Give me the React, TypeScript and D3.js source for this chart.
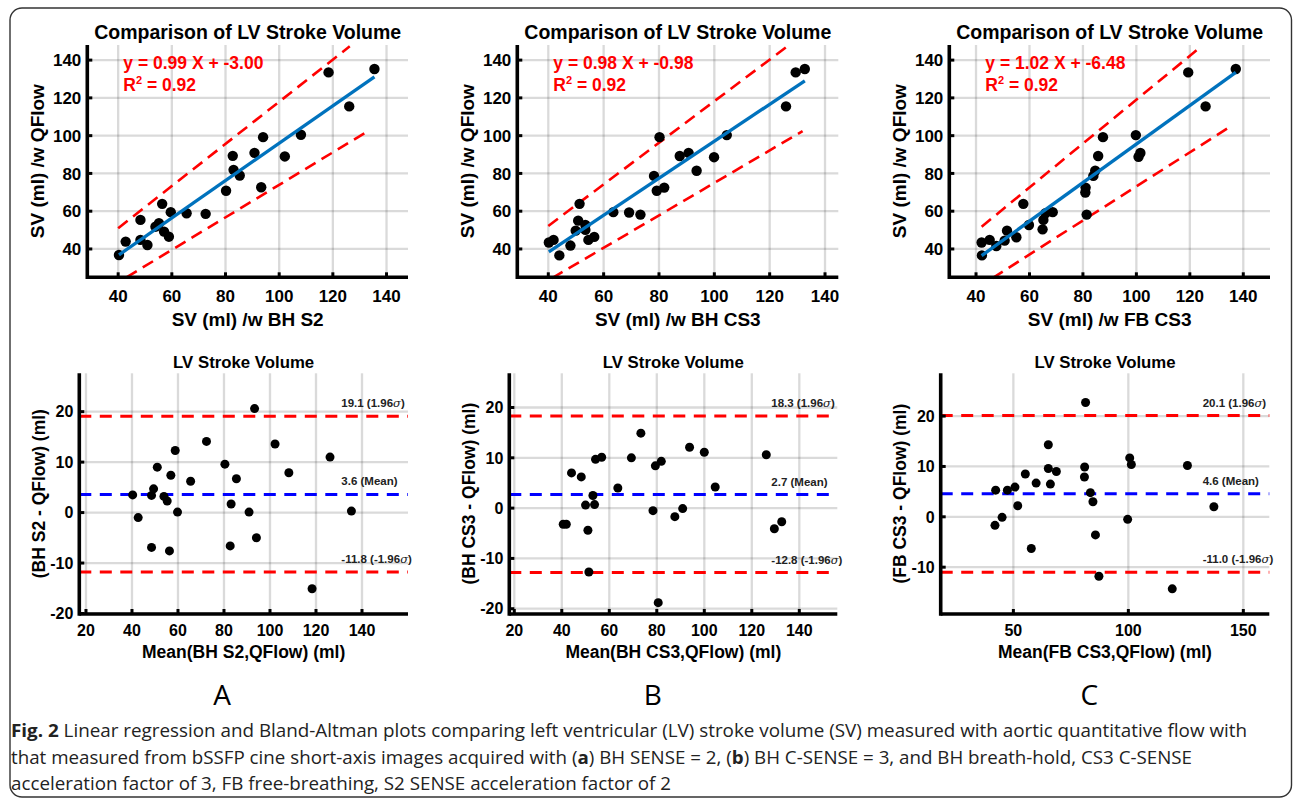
import * as d3 from 'd3';

// ---- data ----
// top row: SV from cine (x) vs SV from QFlow (y)
const bhS2Sv = [40.3, 42.8, 48.3, 50.9, 48.3, 53.9, 55.2, 56.4, 57.1, 58.9, 59.6, 65.5, 72.6, 80.2, 82.7, 83.0, 85.3, 90.8, 93.3, 94.0, 102.1, 108.1, 118.4, 126.1, 135.5];
const bhS2Qflow = [36.8, 43.9, 44.8, 42.1, 55.4, 51.8, 53.6, 63.9, 49.2, 46.5, 59.5, 58.9, 58.6, 70.8, 89.3, 81.9, 78.9, 90.9, 72.7, 99.2, 89.0, 100.5, 133.5, 115.5, 135.3];

const bhCs3Sv = [40.2, 41.9, 44.0, 48.0, 49.9, 50.8, 51.3, 53.4, 53.4, 54.5, 56.6, 63.5, 69.2, 73.3, 78.2, 79.2, 80.2, 81.9, 87.5, 90.7, 93.6, 99.9, 104.5, 125.9, 129.4, 132.7];
const bhCs3Qflow = [43.4, 44.8, 36.6, 41.8, 49.7, 55.0, 63.9, 52.7, 50.1, 44.8, 46.4, 59.5, 59.3, 58.2, 78.7, 70.8, 99.2, 72.5, 89.2, 90.9, 81.4, 88.6, 100.3, 115.5, 133.5, 135.3];

const fbCs3Sv = [42.1, 42.2, 45.1, 47.6, 50.7, 51.6, 55.1, 57.7, 59.8, 64.9, 65.2, 66.0, 68.7, 80.9, 81.0, 81.4, 83.9, 84.6, 85.7, 87.5, 99.8, 100.8, 101.5, 119.4, 125.9, 137.2];
const fbCs3Qflow = [43.4, 36.6, 44.8, 41.6, 44.4, 49.7, 46.2, 63.9, 52.7, 50.4, 55.4, 58.9, 59.5, 69.9, 72.5, 58.2, 78.7, 81.4, 89.2, 99.2, 100.3, 88.8, 90.8, 133.5, 115.5, 135.3];

// fits: [slope, intercept, r2]
const fitS2 = [0.99, -3.0, 0.92];
const fitCs3 = [0.98, -0.98, 0.92];
const fitFb = [1.02, -6.48, 0.92];

// dashed bound lines: [x0, y0, x1, y1]
const upperS2 = [40.0, 51.0, 126.3, 147.3];
const lowerS2 = [43.1, 25.0, 131.9, 101.4];
const upperCs3 = [40.0, 52.2, 126.4, 147.3];
const lowerCs3 = [41.4, 24.6, 131.9, 102.4];
const upperFb = [42.1, 51.8, 122.7, 145.4];
const lowerFb = [46.2, 24.6, 134.0, 103.8];

// bottom row: Bland-Altman
const baS2Mean = [40.3, 42.7, 48.5, 48.5, 49.4, 51.0, 53.9, 55.3, 56.3, 56.9, 58.8, 59.8, 65.5, 72.4, 80.4, 82.7, 83.1, 85.4, 90.9, 93.3, 94.1, 102.2, 108.2, 118.3, 126.1, 135.4];
const baS2Diff = [3.5, -1.0, -6.9, 3.4, 4.7, 9.0, 3.2, 2.3, -7.6, 7.4, 12.3, 0.1, 6.2, 14.1, 9.6, -6.6, 1.7, 6.7, 0.1, 20.6, -5.0, 13.6, 7.9, -15.1, 11.0, 0.3];

const baCs3Mean = [40.6, 41.9, 44.1, 48.2, 50.0, 51.0, 51.4, 53.1, 53.8, 54.2, 56.8, 63.6, 69.3, 73.3, 78.4, 79.4, 80.6, 81.9, 87.6, 90.9, 93.8, 100.0, 104.6, 126.1, 129.5, 132.6];
const baCs3Diff = [-3.2, -3.2, 7.0, 6.2, 0.6, -4.4, -12.7, 2.5, 0.7, 9.7, 10.1, 4.0, 10.0, 14.9, -0.5, 8.4, -18.8, 9.3, -1.7, -0.1, 12.1, 11.1, 4.2, 10.6, -4.1, -2.7];

const baFbMean = [42.0, 42.3, 45.1, 47.4, 50.7, 51.9, 55.2, 57.8, 59.9, 65.2, 65.2, 66.1, 68.7, 80.9, 81.0, 81.4, 83.5, 84.6, 85.7, 87.2, 99.7, 100.6, 101.3, 119.1, 125.7, 137.2];
const baFbDiff = [-1.7, 5.3, -0.1, 5.3, 5.9, 2.2, 8.5, -6.3, 6.7, 14.3, 9.6, 6.5, 9.0, 7.9, 9.9, 22.7, 4.8, 3.0, -3.6, -11.8, -0.5, 11.7, 10.4, -14.3, 10.2, 2.0];

// limits of agreement: [upper, mean, lower]
const loaS2 = [19.1, 3.6, -11.8];
const loaCs3 = [18.3, 2.7, -12.8];
const loaFb = [20.1, 4.6, -11.0];

// ticks
const topTicks = [40, 60, 80, 100, 120, 140];
const baXTicks = [20, 40, 60, 80, 100, 120, 140];
const baXTicksC = [50, 100, 150];
const baYTicks = [-20, -10, 0, 10, 20];
const baYTicksC = [-10, 0, 10, 20];

const FONT = '"Liberation Sans", Arial, Helvetica, sans-serif';
const CAP = '"Open Sans", sans-serif';
const GRID = 'rgba(38,38,38,0.17)';

function Frame({ x, y, xTicks, yTicks }) {
  const [l, r] = x.range();
  const [b, t] = y.range();
  return (
    <g>
      {xTicks.map((v) => (
        <line key={'gx' + v} x1={x(v)} x2={x(v)} y1={b} y2={t} stroke={GRID} strokeWidth={2.3} />
      ))}
      {yTicks.map((v) => (
        <line key={'gy' + v} x1={l} x2={r} y1={y(v)} y2={y(v)} stroke={GRID} strokeWidth={2.3} />
      ))}
    </g>
  );
}

function AxesOver({ x, y, xTicks, yTicks, tickSize, xLab, yLab, xLabY, yLabOff, labSize, tickYOff }) {
  const [l, r] = x.range();
  const [b, t] = y.range();
  return (
    <g fontFamily={FONT} fontWeight="bold" fill="#000">
      <line x1={l} x2={r} y1={b} y2={b} stroke="#000" strokeWidth={3.6} />
      <line x1={l} x2={l} y1={b + 1.8} y2={t} stroke="#000" strokeWidth={3.6} />
      {xTicks.map((v) => (
        <g key={'tx' + v}>
          <line x1={x(v)} x2={x(v)} y1={b} y2={b - 5} stroke="#000" strokeWidth={3} />
          <text x={x(v)} y={b + tickYOff} textAnchor="middle" fontSize={tickSize}>{v}</text>
        </g>
      ))}
      {yTicks.map((v) => (
        <g key={'ty' + v}>
          <line x1={l} x2={l + 5} y1={y(v)} y2={y(v)} stroke="#000" strokeWidth={3} />
          <text x={l - 6} y={y(v)} dy="0.36em" textAnchor="end" fontSize={tickSize}>{v}</text>
        </g>
      ))}
      <text x={(l + r) / 2} y={xLabY} textAnchor="middle" fontSize={labSize}>{xLab}</text>
      <text transform={`translate(${l - yLabOff},${(t + b) / 2}) rotate(-90)`} textAnchor="middle" fontSize={labSize}>{yLab}</text>
    </g>
  );
}

function RegPanel({ left, right, xDom, xs, ys, fit, upper, lower, xLab }) {
  const x = d3.scaleLinear().domain(xDom).range([left, right]);
  const y = d3.scaleLinear().domain([25, 148]).range([277.3, 45]);
  const [k, c, r2] = fit;
  const x0 = d3.min(xs);
  const x1 = d3.max(xs);
  const line = d3.line<number>().x((d) => x(d)).y((d) => y(k * d + c));
  const seg = (s: number[]) => `M${x(s[0])},${y(s[1])}L${x(s[2])},${y(s[3])}`;
  const ax = { x, y, xTicks: topTicks, yTicks: topTicks, tickSize: 17, xLab, yLab: 'SV (ml) /w QFlow', xLabY: 326, yLabOff: 43.5, labSize: 19, tickYOff: 24.7 };
  return (
    <g>
      <text x={(left + right) / 2} y={39} textAnchor="middle" fontFamily={FONT} fontWeight="bold" fontSize={19.5}>Comparison of LV Stroke Volume</text>
      <Frame {...ax} />
      <path d={seg(upper)} stroke="#ff0000" strokeWidth={2.6} strokeDasharray="12 7" fill="none" />
      <path d={seg(lower)} stroke="#ff0000" strokeWidth={2.6} strokeDasharray="12 7" fill="none" />
      {xs.map((v, i) => (
        <circle key={i} cx={x(v)} cy={y(ys[i])} r={5.2} fill="#000" />
      ))}
      <path d={line([x0, x1]) || ''} stroke="#0072BD" strokeWidth={3.3} fill="none" />
      <AxesOver {...ax} />
      <g fontFamily={FONT} fontWeight="bold" fontSize={17.5} fill="#ff0000">
        <text x={left + 36} y={69}>{`y = ${k.toFixed(2)} X + ${c.toFixed(2)}`}</text>
        <text x={left + 36} y={91}>R<tspan dy={-7} fontSize={11}>2</tspan><tspan dy={7}>{` = ${r2.toFixed(2)}`}</tspan></text>
      </g>
    </g>
  );
}

function BAPanel({ left, right, xDom, yDom, xs, ys, loa, xTicks, yTicks, xLab, yLab }) {
  const x = d3.scaleLinear().domain(xDom).range([left, right]);
  const y = d3.scaleLinear().domain(yDom).range([614, 373.3]);
  const ax = { x, y, xTicks, yTicks, tickSize: 16, xLab, yLab, xLabY: 658, yLabOff: 34.5, labSize: 17.5, tickYOff: 22 };
  const labels = [`${loa[0].toFixed(1)} (1.96`, `${loa[1].toFixed(1)} (Mean)`, `${loa[2].toFixed(1)} (-1.96`];
  const colors = ['#ff0000', '#0000ff', '#ff0000'];
  return (
    <g>
      <text x={(left + right) / 2} y={367.7} textAnchor="middle" fontFamily={FONT} fontWeight="bold" fontSize={16.8}>LV Stroke Volume</text>
      <Frame {...ax} />
      {loa.map((v, i) => (
        <g key={i}>
          <line x1={left} x2={right} y1={y(v)} y2={y(v)} stroke={colors[i]} strokeWidth={3} strokeDasharray="12 8.5" />
          <text x={left + 262} y={y(v) - 9} fontFamily={FONT} fontWeight="bold" fontSize={11.5} fill="#222">
            {labels[i]}
            {i !== 1 && <tspan fontStyle="italic" fontWeight="normal" fontFamily='"DejaVu Serif", serif'>σ</tspan>}
            {i !== 1 && ')'}
          </text>
        </g>
      ))}
      {xs.map((v, i) => (
        <circle key={i} cx={x(v)} cy={y(ys[i])} r={4.5} fill="#000" />
      ))}
      <AxesOver {...ax} />
    </g>
  );
}

export default function App() {
  return (
    <div style={{ position: 'absolute', left: 0, top: 0 }}>
      <svg width={1295} height={801} style={{ display: 'block', background: '#fff' }}>
        <rect x={10} y={8} width={1281.5} height={789} rx={12} fill="none" stroke="#333" strokeWidth={1.4} />

        <RegPanel left={87.3} right={408} xDom={[28.5, 148]} xs={bhS2Sv} ys={bhS2Qflow} fit={fitS2} upper={upperS2} lower={lowerS2} xLab="SV (ml) /w BH S2" />
        <RegPanel left={517.3} right={838.3} xDom={[28.8, 144.8]} xs={bhCs3Sv} ys={bhCs3Qflow} fit={fitCs3} upper={upperCs3} lower={lowerCs3} xLab="SV (ml) /w BH CS3" />
        <RegPanel left={949.3} right={1270} xDom={[30, 150]} xs={fbCs3Sv} ys={fbCs3Qflow} fit={fitFb} upper={upperFb} lower={lowerFb} xLab="SV (ml) /w FB CS3" />

        <BAPanel left={79.3} right={408} xDom={[17.1, 160]} yDom={[-20.1, 27.6]} xs={baS2Mean} ys={baS2Diff} loa={loaS2} xTicks={baXTicks} yTicks={baYTicks} xLab="Mean(BH S2,QFlow) (ml)" yLab="(BH S2 - QFlow) (ml)" />
        <BAPanel left={509.3} right={837.3} xDom={[17.9, 156]} yDom={[-21.05, 26.8]} xs={baCs3Mean} ys={baCs3Diff} loa={loaCs3} xTicks={baXTicks} yTicks={baYTicks} xLab="Mean(BH CS3,QFlow) (ml)" yLab="(BH CS3 - QFlow) (ml)" />
        <BAPanel left={940.7} right={1269.3} xDom={[18.4, 161.3]} yDom={[-19.3, 28.5]} xs={baFbMean} ys={baFbDiff} loa={loaFb} xTicks={baXTicksC} yTicks={baYTicksC} xLab="Mean(FB CS3,QFlow) (ml)" yLab="(FB CS3 - QFlow) (ml)" />

        <g fontFamily={CAP} fontSize={28} textAnchor="middle" fill="#000">
          <text x={222} y={705}>A</text>
          <text x={652.7} y={705}>B</text>
          <text x={1089.4} y={705}>C</text>
        </g>

        <g fontFamily={CAP} fontSize={18.5} fill="#222">
          <text x={11} y={737} textLength={1236} lengthAdjust="spacingAndGlyphs"><tspan fontWeight="bold">Fig. 2</tspan> Linear regression and Bland-Altman plots comparing left ventricular (LV) stroke volume (SV) measured with aortic quantitative flow with</text>
          <text x={11} y={764} textLength={1181} lengthAdjust="spacingAndGlyphs">that measured from bSSFP cine short-axis images acquired with (<tspan fontWeight="bold">a</tspan>) BH SENSE = 2, (<tspan fontWeight="bold">b</tspan>) BH C-SENSE = 3, and BH breath-hold, CS3 C-SENSE</text>
          <text x={11} y={790} textLength={660} lengthAdjust="spacingAndGlyphs">acceleration factor of 3, FB free-breathing, S2 SENSE acceleration factor of 2</text>
        </g>
      </svg>
    </div>
  );
}
